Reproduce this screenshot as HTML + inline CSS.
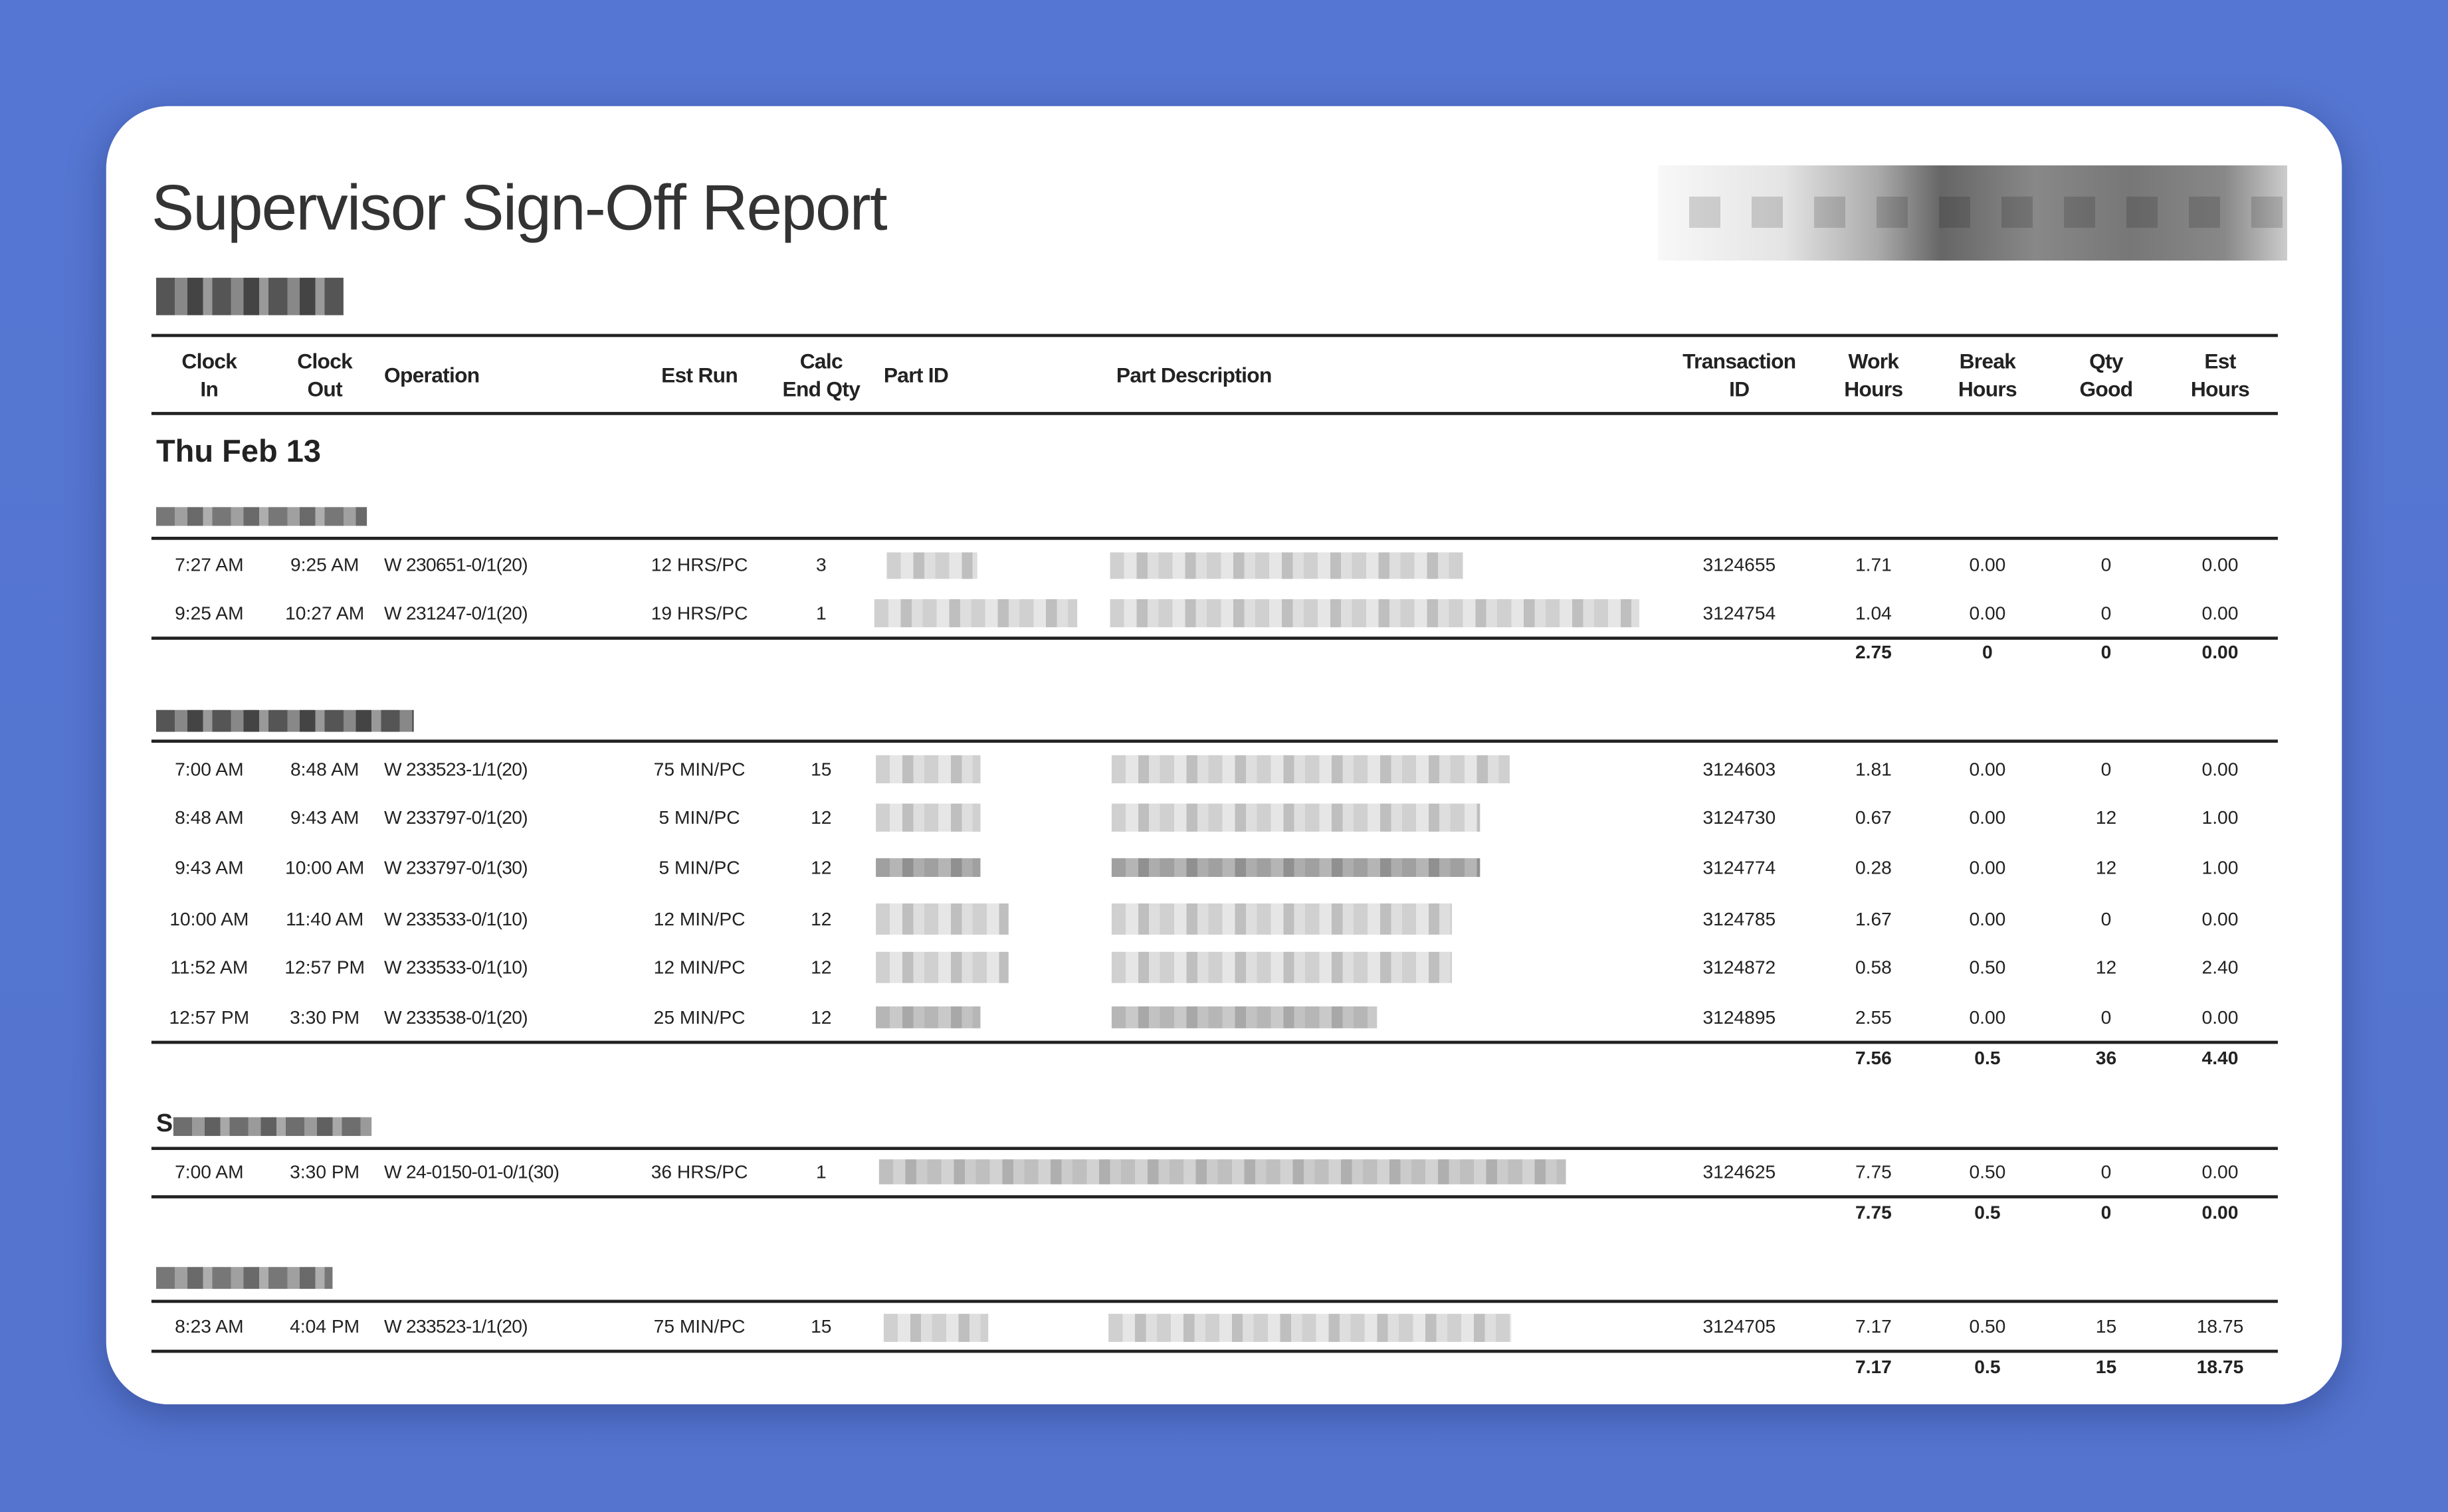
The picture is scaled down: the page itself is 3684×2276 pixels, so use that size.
<!DOCTYPE html>
<html><head><meta charset="utf-8"><style>
html,body{margin:0;padding:0}
body{width:3684px;height:2276px;overflow:hidden;background:linear-gradient(180deg,#5576d2,#5474cf);}
#s{position:absolute;left:0;top:0;width:1568px;height:969px;transform:scale(2.3495,2.3488);transform-origin:0 0;font-family:"Liberation Sans Narrow","Liberation Sans",sans-serif;color:#222}
.card{position:absolute;left:68px;top:68px;width:1432px;height:832px;background:#fff;border-radius:40px;box-shadow:0 6px 24px rgba(20,30,80,.35)}
.t{position:absolute;left:97px;top:110px;font-family:"Liberation Sans",sans-serif;font-size:41px;color:#333;letter-spacing:-0.8px}
.ln{position:absolute;left:97px;width:1362px;height:2px;background:#222}
.r{position:absolute;left:0;width:1568px;height:16px;line-height:16px;font-size:12px}
.r span{position:absolute;top:0;white-space:nowrap}
.ci{left:99px;width:70px;text-align:center}
.co{left:173px;width:70px;text-align:center}
.op{left:246px;letter-spacing:-0.3px}
.er{left:403px;width:90px;text-align:center}
.cq{left:501px;width:50px;text-align:center}
.tx{left:1069px;width:90px;text-align:center}
.wh{left:1170px;width:60px;text-align:center}
.bh{left:1243px;width:60px;text-align:center}
.qg{left:1319px;width:60px;text-align:center}
.eh{left:1392px;width:60px;text-align:center}
.b{font-weight:bold}
.h{position:absolute;font-weight:bold;font-size:13.5px;line-height:18px;text-align:center;white-space:nowrap;letter-spacing:-0.3px}
.bl{position:absolute;background:repeating-linear-gradient(90deg,#c8c8c8 0 9px,#e2e2e2 9px 17px,#b4b4b4 17px 24px,#d8d8d8 24px 31px);opacity:.85}
.nm{position:absolute;background:repeating-linear-gradient(90deg,#555 0 12px,#888 12px 20px,#444 20px 30px,#999 30px 36px);}
</style></head><body><div id="s">
<div class="card"></div>
<div class="t">Supervisor Sign-Off Report</div>
<div style="position:absolute;left:1062px;top:106px;width:403px;height:61px;background:linear-gradient(90deg,#f8f8f8 0%,#e4e4e4 20%,#aaa 35%,#666 45%,#888 60%,#777 75%,#888 90%,#ccc 100%);"></div>
<div style="position:absolute;left:1062px;top:126px;width:403px;height:20px;background:repeating-linear-gradient(90deg,rgba(0,0,0,0) 0 20px,rgba(0,0,0,.15) 20px 40px)"></div>
<div class="nm" style="left:100px;top:178px;width:120px;height:24px"></div>

<div class="ln" style="top:214px"></div>
<div class="ln" style="top:264px"></div>
<div class="h" style="left:104px;width:60px;top:223px">Clock<br>In</div>
<div class="h" style="left:178px;width:60px;top:223px">Clock<br>Out</div>
<div class="h" style="left:246px;top:232px">Operation</div>
<div class="h" style="left:408px;width:80px;top:232px">Est Run</div>
<div class="h" style="left:491px;width:70px;top:223px">Calc<br>End Qty</div>
<div class="h" style="left:566px;top:232px">Part ID</div>
<div class="h" style="left:715px;top:232px">Part Description</div>
<div class="h" style="left:1064px;width:100px;top:223px">Transaction<br>ID</div>
<div class="h" style="left:1170px;width:60px;top:223px">Work<br>Hours</div>
<div class="h" style="left:1243px;width:60px;top:223px">Break<br>Hours</div>
<div class="h" style="left:1319px;width:60px;top:223px">Qty<br>Good</div>
<div class="h" style="left:1392px;width:60px;top:223px">Est<br>Hours</div>

<div style="position:absolute;left:100px;top:279px;font-family:'Liberation Sans',sans-serif;font-weight:bold;font-size:20px">Thu Feb 13</div>

<!-- group 1 -->
<div class="nm" style="left:100px;top:325px;width:135px;height:12px;opacity:.8"></div>
<div class="ln" style="top:344px"></div>
<div class="r" style="top:354px"><span class="ci">7:27 AM</span><span class="co">9:25 AM</span><span class="op">W 230651-0/1(20)</span><span class="er">12 HRS/PC</span><span class="cq">3</span><span class="tx">3124655</span><span class="wh">1.71</span><span class="bh">0.00</span><span class="qg">0</span><span class="eh">0.00</span></div>
<div class="bl" style="left:568px;top:354px;width:58px;height:17px"></div><div class="bl" style="left:711px;top:354px;width:226px;height:17px"></div>
<div class="r" style="top:385px"><span class="ci">9:25 AM</span><span class="co">10:27 AM</span><span class="op">W 231247-0/1(20)</span><span class="er">19 HRS/PC</span><span class="cq">1</span><span class="tx">3124754</span><span class="wh">1.04</span><span class="bh">0.00</span><span class="qg">0</span><span class="eh">0.00</span></div>
<div class="bl" style="left:560px;top:384px;width:130px;height:18px"></div><div class="bl" style="left:711px;top:384px;width:339px;height:18px"></div>
<div class="ln" style="top:408px"></div>
<div class="r b" style="top:410px"><span class="wh">2.75</span><span class="bh">0</span><span class="qg">0</span><span class="eh">0.00</span></div>

<!-- group 2 -->
<div class="nm" style="left:100px;top:455px;width:165px;height:14px"></div>
<div class="ln" style="top:474px"></div>
<div class="r" style="top:485px"><span class="ci">7:00 AM</span><span class="co">8:48 AM</span><span class="op">W 233523-1/1(20)</span><span class="er">75 MIN/PC</span><span class="cq">15</span><span class="tx">3124603</span><span class="wh">1.81</span><span class="bh">0.00</span><span class="qg">0</span><span class="eh">0.00</span></div>
<div class="bl" style="left:561px;top:484px;width:67px;height:18px"></div><div class="bl" style="left:712px;top:484px;width:255px;height:18px"></div>
<div class="r" style="top:516px"><span class="ci">8:48 AM</span><span class="co">9:43 AM</span><span class="op">W 233797-0/1(20)</span><span class="er">5 MIN/PC</span><span class="cq">12</span><span class="tx">3124730</span><span class="wh">0.67</span><span class="bh">0.00</span><span class="qg">12</span><span class="eh">1.00</span></div>
<div class="bl" style="left:561px;top:515px;width:67px;height:18px"></div><div class="bl" style="left:712px;top:515px;width:236px;height:18px"></div>
<div class="r" style="top:548px"><span class="ci">9:43 AM</span><span class="co">10:00 AM</span><span class="op">W 233797-0/1(30)</span><span class="er">5 MIN/PC</span><span class="cq">12</span><span class="tx">3124774</span><span class="wh">0.28</span><span class="bh">0.00</span><span class="qg">12</span><span class="eh">1.00</span></div>
<div class="bl" style="left:561px;top:550px;width:67px;height:12px;opacity:1;filter:brightness(.8)"></div><div class="bl" style="left:712px;top:550px;width:236px;height:12px;opacity:1;filter:brightness(.8)"></div>
<div class="r" style="top:581px"><span class="ci">10:00 AM</span><span class="co">11:40 AM</span><span class="op">W 233533-0/1(10)</span><span class="er">12 MIN/PC</span><span class="cq">12</span><span class="tx">3124785</span><span class="wh">1.67</span><span class="bh">0.00</span><span class="qg">0</span><span class="eh">0.00</span></div>
<div class="bl" style="left:561px;top:579px;width:85px;height:20px"></div><div class="bl" style="left:712px;top:579px;width:218px;height:20px"></div>
<div class="r" style="top:612px"><span class="ci">11:52 AM</span><span class="co">12:57 PM</span><span class="op">W 233533-0/1(10)</span><span class="er">12 MIN/PC</span><span class="cq">12</span><span class="tx">3124872</span><span class="wh">0.58</span><span class="bh">0.50</span><span class="qg">12</span><span class="eh">2.40</span></div>
<div class="bl" style="left:561px;top:610px;width:85px;height:20px"></div><div class="bl" style="left:712px;top:610px;width:218px;height:20px"></div>
<div class="r" style="top:644px"><span class="ci">12:57 PM</span><span class="co">3:30 PM</span><span class="op">W 233538-0/1(20)</span><span class="er">25 MIN/PC</span><span class="cq">12</span><span class="tx">3124895</span><span class="wh">2.55</span><span class="bh">0.00</span><span class="qg">0</span><span class="eh">0.00</span></div>
<div class="bl" style="left:561px;top:645px;width:67px;height:14px;filter:brightness(.85)"></div><div class="bl" style="left:712px;top:645px;width:170px;height:14px;filter:brightness(.85)"></div>
<div class="ln" style="top:667px"></div>
<div class="r b" style="top:670px"><span class="wh">7.56</span><span class="bh">0.5</span><span class="qg">36</span><span class="eh">4.40</span></div>

<!-- group 3 -->
<div style="position:absolute;left:100px;top:712px;font-weight:bold;font-size:16px;line-height:18px">S</div>
<div class="nm" style="left:111px;top:716px;width:127px;height:12px;opacity:.85"></div>
<div class="ln" style="top:735px"></div>
<div class="r" style="top:743px"><span class="ci">7:00 AM</span><span class="co">3:30 PM</span><span class="op">W 24-0150-01-0/1(30)</span><span class="er">36 HRS/PC</span><span class="cq">1</span><span class="tx">3124625</span><span class="wh">7.75</span><span class="bh">0.50</span><span class="qg">0</span><span class="eh">0.00</span></div>
<div class="bl" style="left:563px;top:743px;width:440px;height:16px;filter:brightness(.9)"></div>
<div class="ln" style="top:766px"></div>
<div class="r b" style="top:769px"><span class="wh">7.75</span><span class="bh">0.5</span><span class="qg">0</span><span class="eh">0.00</span></div>

<!-- group 4 -->
<div class="nm" style="left:100px;top:812px;width:113px;height:14px;opacity:.8"></div>
<div class="ln" style="top:833px"></div>
<div class="r" style="top:842px"><span class="ci">8:23 AM</span><span class="co">4:04 PM</span><span class="op">W 233523-1/1(20)</span><span class="er">75 MIN/PC</span><span class="cq">15</span><span class="tx">3124705</span><span class="wh">7.17</span><span class="bh">0.50</span><span class="qg">15</span><span class="eh">18.75</span></div>
<div class="bl" style="left:566px;top:842px;width:67px;height:18px"></div><div class="bl" style="left:710px;top:842px;width:258px;height:18px"></div>
<div class="ln" style="top:865px"></div>
<div class="r b" style="top:868px"><span class="wh">7.17</span><span class="bh">0.5</span><span class="qg">15</span><span class="eh">18.75</span></div>
</div></body></html>
